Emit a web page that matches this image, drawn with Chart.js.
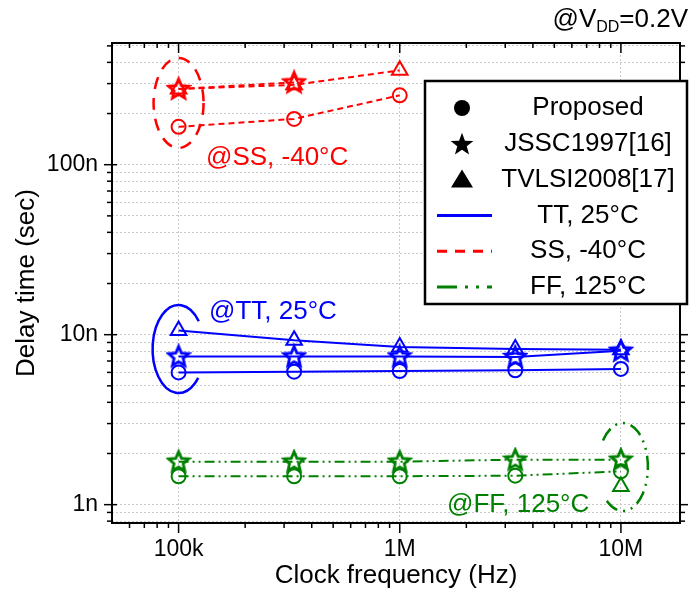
<!DOCTYPE html>
<html>
<head>
<meta charset="utf-8">
<script src="https://cdn.jsdelivr.net/npm/chart.js@4.4.0/dist/chart.umd.min.js"></script>
<style>
    html, body { margin: 0; padding: 0; background: #fff; }
    #wrap { width: 691px; height: 592px; position: relative; }
</style>
</head>
<body>
<div id="wrap"><canvas id="delay"></canvas></div>
<script>
// clock frequencies (Hz)
var freq = [1e5, 3.33e5, 1e6, 3.33e6, 1e7];
var freqSS = [1e5, 3.33e5, 1e6];
var freqFFTri = [1e7];

// delay (sec)
var ttProposed = [6.0e-9, 6.06e-9, 6.11e-9, 6.17e-9, 6.29e-9];
var ttJssc = [7.45e-9, 7.45e-9, 7.45e-9, 7.4e-9, 8.05e-9];
var ttTvlsi = [10.6e-9, 9.26e-9, 8.47e-9, 8.24e-9, 8.16e-9];

var ssProposed = [167e-9, 186e-9, 256e-9];
var ssJssc = [279e-9, 305e-9];
var ssTvlsi = [279e-9, 295e-9, 359e-9];

var ffProposed = [1.47e-9, 1.47e-9, 1.47e-9, 1.48e-9, 1.57e-9];
var ffJssc = [1.79e-9, 1.79e-9, 1.79e-9, 1.84e-9, 1.84e-9];
var ffTvlsi = [1.28e-9];

var xTickValues = [1e5, 1e6, 1e7];
var xTickLabels = ['100k', '1M', '10M'];
var yTickValues = [1e-9, 1e-8, 1e-7];
var yTickLabels = ['1n', '10n', '100n'];

var xMin = 5e4, xMax = 1.85e7;
var yMin = 7.8e-10, yMax = 5.2e-7;

var RED = '#ff0000', BLUE = '#0000ff', GREEN = '#008000';
var FONT = '"Liberation Sans", Arial, sans-serif';

function isDecade(v) {
    var l = Math.log10(v);
    return Math.abs(l - Math.round(l)) < 1e-6;
}

function logTicks(min, max) {
    var out = [];
    for (var e = -12; e <= 9; e++) {
        for (var s = 1; s <= 9; s++) {
            var v = s * Math.pow(10, e);
            if (v > min * 1.0001 && v < max * 0.9999) out.push(v);
        }
    }
    return out;
}
var xGridTicks = logTicks(xMin, xMax);
var yGridTicks = logTicks(yMin, yMax);

function pts(xs, ys) {
    return ys.map(function (y, i) { return { x: xs[i], y: y }; });
}

function labelFor(v, values, labels) {
    for (var i = 0; i < values.length; i++) {
        if (Math.abs(v / values[i] - 1) < 1e-6) return labels[i];
    }
    return '';
}

function starImage(color) {
    var c = document.createElement('canvas');
    c.width = 26; c.height = 26;
    var g = c.getContext('2d');
    g.strokeStyle = color;
    g.lineWidth = 2.8;
    g.beginPath();
    for (var i = 0; i < 10; i++) {
        var r = i % 2 ? 4.8 : 10.5;
        var a = -Math.PI / 2 + i * Math.PI / 5;
        var px = 13 + r * Math.cos(a), py = 13.5 + r * Math.sin(a);
        if (i === 0) g.moveTo(px, py); else g.lineTo(px, py);
    }
    g.closePath();
    g.stroke();
    return c;
}

var dashSS = [6, 4];
var dashFF = [10, 4, 2, 4, 2, 4];

function series(label, data, color, style, dash) {
    return {
        label: label,
        data: data,
        borderColor: color,
        backgroundColor: 'rgba(0,0,0,0)',
        borderWidth: 2,
        borderDash: dash,
        pointStyle: style,
        pointRadius: style === 'triangle' ? 9 : 7,
        pointBorderWidth: 2,
        pointBorderColor: color,
        pointBackgroundColor: 'rgba(0,0,0,0)',
        showLine: true,
        tension: 0
    };
}

var datasets = [
    series('TT proposed', pts(freq, ttProposed), BLUE, 'circle', []),
    series('TT JSSC', pts(freq, ttJssc), BLUE, starImage(BLUE), []),
    series('TT TVLSI', pts(freq, ttTvlsi), BLUE, 'triangle', []),
    series('SS proposed', pts(freqSS, ssProposed), RED, 'circle', dashSS),
    series('SS JSSC', pts(freqSS, ssJssc), RED, starImage(RED), dashSS),
    series('SS TVLSI', pts(freqSS, ssTvlsi), RED, 'triangle', dashSS),
    series('FF proposed', pts(freq, ffProposed), GREEN, 'circle', dashFF),
    series('FF JSSC', pts(freq, ffJssc), GREEN, starImage(GREEN), dashFF),
    series('FF TVLSI', pts(freqFFTri, ffTvlsi), GREEN, 'triangle', dashFF)
];

function line(ctx, x1, y1, x2, y2) {
    ctx.beginPath();
    ctx.moveTo(x1, y1);
    ctx.lineTo(x2, y2);
    ctx.stroke();
}

// frame + ticks on all four sides
var framePlugin = {
    id: 'frame',
    afterDatasetsDraw: function (chart) {
        var ctx = chart.ctx, a = chart.chartArea, x = chart.scales.x, y = chart.scales.y;
        ctx.save();
        ctx.strokeStyle = '#000';
        ctx.lineWidth = 2;
        ctx.setLineDash([]);
        ctx.strokeRect(a.left, a.top, a.right - a.left, a.bottom - a.top);
        ctx.lineWidth = 1.5;
        xGridTicks.forEach(function (v) {
            var p = x.getPixelForValue(v);
            var len = isDecade(v) ? 10 : 5;
            line(ctx, p, a.bottom, p, a.bottom + len);
            line(ctx, p, a.top, p, a.top + len);
        });
        yGridTicks.forEach(function (v) {
            var p = y.getPixelForValue(v);
            var len = isDecade(v) ? 8 : 5;
            line(ctx, a.left - len, p, a.left + (isDecade(v) ? 5 : 0), p);
            line(ctx, a.right, p, a.right + len, p);
        });
        ctx.restore();
    }
};

// circled groups, labels and the legend box
var notePlugin = {
    id: 'notes',
    afterDatasetsDraw: function (chart) {
        var ctx = chart.ctx, x = chart.scales.x, y = chart.scales.y;
        var deg = Math.PI / 180;
        ctx.save();
        ctx.lineWidth = 2.5;

        // SS group
        ctx.strokeStyle = RED;
        ctx.setLineDash([12, 9]);
        ctx.beginPath();
        ctx.ellipse(x.getPixelForValue(1e5), 103, 25, 45, 0, 0, 2 * Math.PI);
        ctx.stroke();

        // TT group
        ctx.strokeStyle = BLUE;
        ctx.setLineDash([]);
        ctx.beginPath();
        ctx.ellipse(x.getPixelForValue(1e5), 349, 26, 44, 0, -39 * deg, 41 * deg, true);
        ctx.stroke();

        // FF group
        ctx.strokeStyle = GREEN;
        ctx.setLineDash([14, 6, 2, 6, 2, 6]);
        ctx.beginPath();
        ctx.ellipse(x.getPixelForValue(1e7) + 2, 467, 25, 44, 0, -143 * deg, 137 * deg, false);
        ctx.stroke();
        ctx.setLineDash([]);

        ctx.font = '26px ' + FONT;
        ctx.textBaseline = 'middle';
        ctx.textAlign = 'left';
        ctx.fillStyle = RED;
        ctx.fillText('@SS, -40\u00B0C', 206, 158);
        ctx.fillStyle = BLUE;
        ctx.fillText('@TT, 25\u00B0C', 209, 312);
        ctx.fillStyle = GREEN;
        ctx.fillText('@FF, 125\u00B0C', 447, 505);

        // supply note, top right
        ctx.fillStyle = '#000';
        var w1 = ctx.measureText('@V').width;
        var w3 = ctx.measureText('=0.2V').width;
        ctx.font = '16px ' + FONT;
        var w2 = ctx.measureText('DD').width;
        var sx = 688 - w1 - w2 - w3;
        ctx.font = '26px ' + FONT;
        ctx.fillText('@V', sx, 20);
        ctx.fillText('=0.2V', sx + w1 + w2, 20);
        ctx.font = '16px ' + FONT;
        ctx.fillText('DD', sx + w1, 28);

        // legend
        var bx = 425, by = 81, bw = 262, bh = 223;
        ctx.fillStyle = '#fff';
        ctx.fillRect(bx, by, bw, bh);
        ctx.strokeStyle = '#000';
        ctx.lineWidth = 2.5;
        ctx.strokeRect(bx, by, bw, bh);

        var rows = ['Proposed', 'JSSC1997[16]', 'TVLSI2008[17]', 'TT, 25\u00B0C', 'SS, -40\u00B0C', 'FF, 125\u00B0C'];
        var mx = 462;
        rows.forEach(function (t, i) {
            var ry = 108 + i * 35.8;
            ctx.fillStyle = '#000';
            ctx.strokeStyle = '#000';
            if (i === 0) {
                ctx.beginPath();
                ctx.arc(mx, ry, 8, 0, 2 * Math.PI);
                ctx.fill();
            } else if (i === 1) {
                ctx.beginPath();
                for (var k = 0; k < 10; k++) {
                    var r = k % 2 ? 5 : 12;
                    var an = -Math.PI / 2 + k * Math.PI / 5;
                    var px = mx + r * Math.cos(an), py = ry + 1 + r * Math.sin(an);
                    if (k === 0) ctx.moveTo(px, py); else ctx.lineTo(px, py);
                }
                ctx.closePath();
                ctx.fill();
            } else if (i === 2) {
                ctx.beginPath();
                ctx.moveTo(mx, ry - 10);
                ctx.lineTo(mx + 11, ry + 8);
                ctx.lineTo(mx - 11, ry + 8);
                ctx.closePath();
                ctx.fill();
            } else {
                ctx.lineWidth = 3;
                ctx.strokeStyle = [BLUE, RED, GREEN][i - 3];
                ctx.setLineDash([[], [10, 8], [20, 8, 3, 8, 3, 8]][i - 3]);
                line(ctx, 437, ry, 492, ry);
                ctx.setLineDash([]);
            }
            ctx.fillStyle = '#000';
            ctx.font = '26px ' + FONT;
            ctx.textAlign = 'center';
            ctx.fillText(t, 588, ry);
        });
        ctx.restore();
    }
};

var chart = new Chart(document.getElementById('delay').getContext('2d'), {
    type: 'scatter',
    data: { datasets: datasets },
    options: {
        responsive: true,
        maintainAspectRatio: false,
        animation: false,
        devicePixelRatio: 1,
        layout: { padding: { top: 43, right: 4, left: 0, bottom: 0 } },
        plugins: { legend: { display: false }, tooltip: { enabled: false } },
        scales: {
            x: {
                type: 'logarithmic',
                min: xMin,
                max: xMax,
                afterBuildTicks: function (scale) {
                    scale.ticks = xGridTicks.map(function (v) { return { value: v }; });
                },
                afterFit: function (scale) { scale.height = 69; },
                ticks: {
                    autoSkip: false,
                    maxRotation: 0,
                    padding: 13,
                    color: '#000',
                    font: { family: FONT, size: 23 },
                    callback: function (v) { return labelFor(v, xTickValues, xTickLabels); }
                },
                grid: {
                    drawTicks: false,
                    lineWidth: 1,
                    color: function (c) { return c.tick && isDecade(c.tick.value) ? '#c8c8c8' : 'rgba(0,0,0,0)'; }
                },
                border: { display: false, dash: [2, 2] },
                title: {
                    display: true,
                    text: 'Clock frequency (Hz)',
                    color: '#000',
                    font: { family: FONT, size: 26 },
                    padding: { top: 0, bottom: 1 }
                }
            },
            y: {
                type: 'logarithmic',
                min: yMin,
                max: yMax,
                afterBuildTicks: function (scale) {
                    scale.ticks = yGridTicks.map(function (v) { return { value: v }; });
                },
                afterFit: function (scale) { scale.width = 112; },
                ticks: {
                    autoSkip: false,
                    padding: 14,
                    color: '#000',
                    font: { family: FONT, size: 23 },
                    callback: function (v) { return labelFor(v, yTickValues, yTickLabels); }
                },
                grid: {
                    drawTicks: false,
                    lineWidth: 1,
                    color: '#c8c8c8'
                },
                border: { display: false, dash: [2, 2] },
                title: {
                    display: true,
                    text: 'Delay time (sec)',
                    color: '#000',
                    font: { family: FONT, size: 26 },
                    padding: { top: 11, bottom: 0 }
                }
            }
        }
    },
    plugins: [framePlugin, notePlugin]
});
</script>
</body>
</html>
